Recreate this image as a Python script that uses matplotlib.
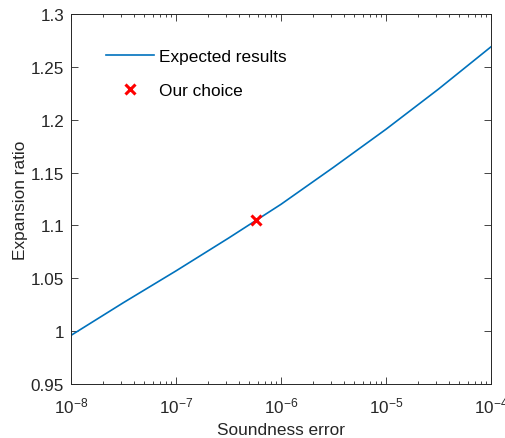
import matplotlib
matplotlib.use("Agg")
import matplotlib.pyplot as plt
from matplotlib.ticker import LogLocator, FixedLocator, NullFormatter

plt.rcParams['font.family'] = ['Liberation Sans', 'DejaVu Sans']

# Data
soundness_error = [1e-8, 10**-7.5, 1e-7, 10**-6.5, 1e-6, 10**-5.5, 1e-5, 10**-4.5, 1e-4]
expansion_ratio = [0.996, 1.027, 1.057, 1.088, 1.120, 1.155, 1.191, 1.229, 1.269]
choice_x = [5.8e-7]
choice_y = [1.105]
yticks = [0.95, 1.0, 1.05, 1.1, 1.15, 1.2, 1.25, 1.3]
ytick_labels = ['0.95', '1', '1.05', '1.1', '1.15', '1.2', '1.25', '1.3']

fig = plt.figure(figsize=(5.05, 4.39), dpi=100)
ax = fig.add_axes([0.1406, 0.123, 0.8317, 0.8428])
dark = '#262626'

ax.plot(soundness_error, expansion_ratio, color='#0072BD', lw=1.2, label='Expected results')
ax.plot(choice_x, choice_y, linestyle='none', marker='x', color='red', ms=7, mew=2.2,
        label='Our choice')

ax.set_xscale('log')
ax.set_xlim(1e-8, 1e-4)
ax.set_ylim(0.95, 1.3)
ax.yaxis.set_major_locator(FixedLocator(yticks))
ax.set_yticklabels(ytick_labels)
ax.xaxis.set_major_locator(LogLocator(base=10, numticks=10))
ax.xaxis.set_minor_locator(LogLocator(base=10, subs=range(2, 10), numticks=20))
ax.xaxis.set_minor_formatter(NullFormatter())

ax.tick_params(which='both', direction='in', top=True, right=True, colors=dark,
               labelsize=12.3, width=0.6)
ax.tick_params(which='major', length=5)
ax.tick_params(which='minor', length=2.5)
ax.tick_params(axis='x', which='both', pad=8)
ax.tick_params(axis='y', which='both', pad=5)
for s in ax.spines.values():
    s.set_color(dark)
    s.set_linewidth(0.7)

ax.set_xlabel('Soundness error', fontsize=12.4, color=dark, labelpad=5)
ax.set_ylabel('Expansion ratio', fontsize=12.4, color=dark, labelpad=2)

leg = ax.legend(loc='upper left', bbox_to_anchor=(0.083, 0.906), frameon=False,
                fontsize=12.4, borderpad=0, borderaxespad=0, handlelength=2.8,
                handletextpad=0.3, labelspacing=1.12)
for t in leg.get_texts():
    t.set_color('black')

fig.savefig('out.png', dpi=100)
